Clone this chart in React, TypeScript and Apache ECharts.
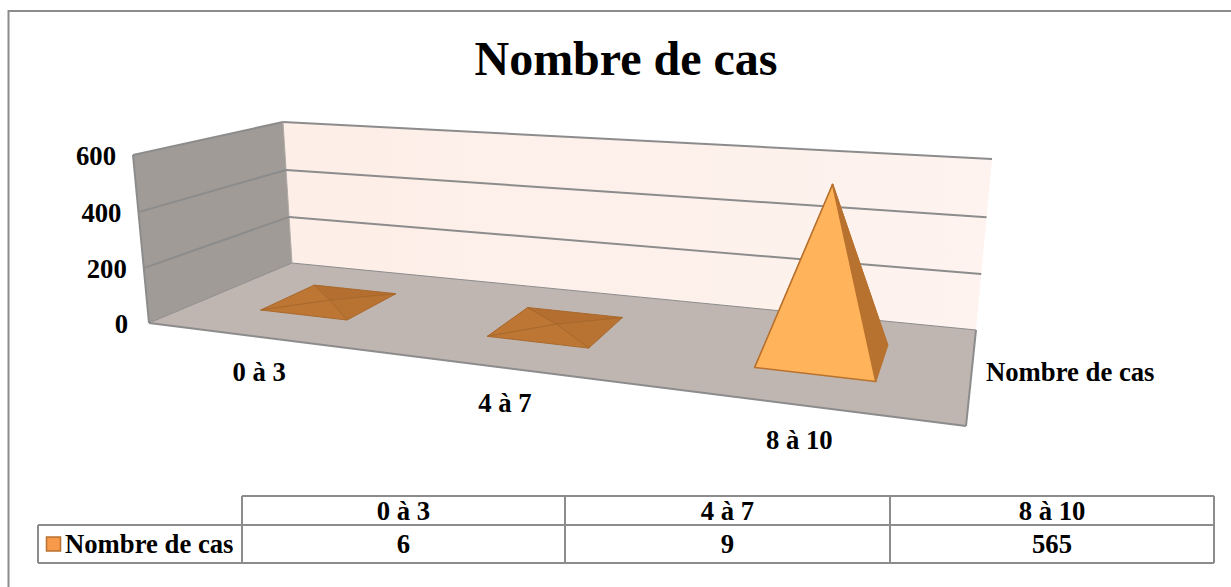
import React, { useEffect, useRef } from "react";
import * as echarts from "echarts";

const title = "Nombre de cas";
const seriesName = "Nombre de cas";
const categories = ["0 à 3", "4 à 7", "8 à 10"];
const values = [6, 9, 565];
const yTicks = [0, 200, 400, 600];

const SERIF = '"Liberation Serif", "Times New Roman", serif';
const LINE = "#8c8c8c";
const FLAT_LIMIT = 50;
const FONT = 26.7;

type P = [number, number];
function squareToQuad(a: P, b: P, c: P, d: P) {
  // a=(0,0) b=(1,0) c=(1,1) d=(0,1)
  const dx1 = b[0] - c[0], dx2 = d[0] - c[0], sx = a[0] - b[0] + c[0] - d[0];
  const dy1 = b[1] - c[1], dy2 = d[1] - c[1], sy = a[1] - b[1] + c[1] - d[1];
  const det = dx1 * dy2 - dx2 * dy1;
  const g = (sx * dy2 - dx2 * sy) / det;
  const h = (dx1 * sy - sx * dy1) / det;
  const A = b[0] - a[0] + g * b[0], B = d[0] - a[0] + h * d[0], C = a[0];
  const D = b[1] - a[1] + g * b[1], E = d[1] - a[1] + h * d[1], F = a[1];
  return (u: number, w: number): P => {
    const q = g * u + h * w + 1;
    return [(A * u + B * w + C) / q, (D * u + E * w + F) / q];
  };
}
const floorMap = squareToQuad([149, 323], [966, 426], [976, 330], [292, 263]);
const topMap = squareToQuad([133, 155], [986, 213], [992, 159], [283, 122]);
function project(u: number, w: number, v: number): P {
  const f = floorMap(u, w), t = topMap(u, w);
  const e = v / (1 + 0.03 * (1 - v)); // vertical foreshortening
  return [f[0] + (t[0] - f[0]) * e, f[1] + (t[1] - f[1]) * e];
}
const tableX = [242, 565, 890, 1214];
const tableY = [496, 525, 563];

function textEl(text: string, x: number, y: number, align: string, size: number) {
  return {
    type: "text",
    silent: true,
    style: { text, x, y, align, verticalAlign: "middle", font: `bold ${size}px ${SERIF}`, fill: "#000" },
  };
}
function poly(points: P[], fill: any, stroke?: string, lineWidth = 0) {
  return {
    type: "polygon",
    silent: true,
    shape: { points },
    style: { fill, stroke: stroke || "none", lineWidth, lineJoin: "round" },
  };
}
function line(a: P, b: P, width = 2, stroke = LINE) {
  return {
    type: "line",
    silent: true,
    shape: { x1: a[0], y1: a[1], x2: b[0], y2: b[1] },
    style: { stroke, lineWidth: width },
  };
}

function renderRoom() {
  const backGrad = new echarts.graphic.LinearGradient(0, 0, 1, 0, [
    { offset: 0, color: "#FDEEE7" },
    { offset: 1, color: "#FEF3EF" },
  ]);
  const lb = project(0, 0, 0), lt = project(0, 0, 1);
  const blb = project(0, 1, 0), blt = project(0, 1, 1);
  const brb = project(1, 1, 0), brt = project(1, 1, 1);
  const frb = project(1, 0, 0);
  return {
    type: "group",
    children: [
      poly([blb, brb, brt, blt], backGrad),
      poly([lb, blb, blt, lt], "#A09B97"),
      poly([lb, frb, brb, blb], "#BFB5B1"),
      line(lt, blt),
      line(blt, brt),
      line(lt, lb),
      line(lb, frb),
      line(frb, brb),
      line(blb, brb, 1),
      line(lb, blb, 1),
      line(blb, blt, 1, "#b0aaa6"),
      textEl(seriesName, frb[0] + 20, project(1, 0.5, 0)[1], "left", FONT),
    ],
  };
}

function renderTick(params: any, api: any) {
  const cs = params.coordSys;
  const v = (cs.y + cs.height - api.coord([0, api.value(0)])[1]) / cs.height;
  if (v === 0) {
    const p = project(0, 0, 0);
    return { type: "group", children: [textEl(String(api.value(0)), p[0] - 21, p[1] + 1, "right", FONT)] };
  }
  const a = project(0, 0, v), b = project(0, 1, v), c = project(1, 1, v);
  const children: any[] = [textEl(String(api.value(0)), a[0] - 17, a[1] + 1, "right", FONT)];
  if (v < 1) children.push(line(a, b), line(b, c));
  return { type: "group", children };
}

function renderPyramid(params: any, api: any) {
  const cs = params.coordSys;
  const pt = api.coord([api.value(0), api.value(1)]);
  const u = (pt[0] - cs.x) / cs.width + 0.003;
  const v = (cs.y + cs.height - pt[1]) / cs.height;
  const du = (api.size([1, 0])[0] / cs.width) * 0.2;
  const w0 = 0.3, w1 = 0.7;
  const fl = project(u - du, w0, 0), fr = project(u + du, w0, 0);
  const br = project(u + du, w1, 0), bl = project(u - du, w1, 0);
  const apex = project(u, (w0 + w1) / 2, v);
  const flat = api.value(1) < FLAT_LIMIT;
  const edge = flat ? "#A9692C" : "#B9722E";
  const lw = flat ? 1 : 1.5;
  const frontFill = flat ? "#BD7634" : "#FFB45C";
  const rightFill = flat ? "#B87231" : "#B8722F";
  const catBase = project(u, 0, 0);
  return {
    type: "group",
    children: [
      poly([bl, fl, apex], flat ? "#BD7634" : "#B8722F", edge, lw),
      poly([bl, br, apex], flat ? "#B36E30" : "#B8722F", edge, lw),
      poly([br, fr, apex], rightFill, edge, lw),
      poly([fl, fr, apex], frontFill, edge, lw),
      textEl(categories[api.value(0)], catBase[0], catBase[1] + 35.5, "center", FONT),
    ],
  };
}

export default function App() {
  const ref = useRef<HTMLDivElement>(null);
  useEffect(() => {
    document.body.style.margin = "0";
    const chart = echarts.init(ref.current!, undefined, { renderer: "svg" });
    const tableLine = (x1: number, y1: number, x2: number, y2: number) => ({
      type: "line",
      shape: { x1, y1, x2, y2 },
      style: { stroke: LINE, lineWidth: 2 },
      silent: true,
    });
    const midY = (a: number, b: number) => (a + b) / 2;
    const tableText = (text: string, x: number, y: number, align = "center") => ({
      type: "text",
      silent: true,
      style: { text, x, y, align, verticalAlign: "middle", font: `bold ${FONT}px ${SERIF}`, fill: "#000" },
    });
    const graphics: any[] = [
      // outer frame, open on the right and bottom
      { type: "polyline", silent: true, shape: { points: [[8.5, 587], [8.5, 11], [1231, 11]] }, style: { stroke: LINE, lineWidth: 2, fill: "none" } },
      tableLine(tableX[0], tableY[0], tableX[3], tableY[0]),
      tableLine(38, tableY[1], tableX[3], tableY[1]),
      tableLine(38, tableY[2], tableX[3], tableY[2]),
      tableLine(38, tableY[1], 38, tableY[2]),
      ...tableX.map((x) => tableLine(x, tableY[0], x, tableY[2])),
      { type: "rect", silent: true, shape: { x: 46.5, y: 537, width: 14, height: 14 }, style: { fill: "#F79A4C", stroke: "#B9722E", lineWidth: 1.5 } },
      tableText(seriesName, 65, midY(tableY[1], tableY[2]), "left"),
      ...categories.map((c, i) => tableText(c, (tableX[i] + tableX[i + 1]) / 2, midY(tableY[0], tableY[1]))),
      ...values.map((val, i) => tableText(String(val), (tableX[i] + tableX[i + 1]) / 2, midY(tableY[1], tableY[2]))),
    ];
    chart.setOption({
      animation: false,
      backgroundColor: "#fff",
      title: {
        text: title,
        left: 621,
        top: 53,
        textAlign: "center",
        textVerticalAlign: "middle",
        textStyle: { fontFamily: SERIF, fontWeight: "bold", fontSize: 48, color: "#000" },
      },
      grid: { left: 100, right: 100, top: 100, bottom: 100, containLabel: false },
      xAxis: { type: "category", data: categories, show: false },
      yAxis: { type: "value", min: 0, max: 600, interval: 200, show: false },
      graphic: graphics,
      series: [
        { type: "custom", name: "room", silent: true, clip: false, z: 1, data: [[0, 0]], renderItem: renderRoom },
        { type: "custom", name: "ticks", silent: true, clip: false, z: 2, data: yTicks.map((t) => [t]), encode: { x: -1, y: 0 }, renderItem: renderTick },
        { type: "custom", name: seriesName, silent: true, clip: false, z: 3, data: values.map((v, i) => [i, v]), encode: { x: 0, y: 1 }, renderItem: renderPyramid },
      ],
    });
    return () => chart.dispose();
  }, []);
  return <div ref={ref} style={{ position: "fixed", left: 0, top: 0, width: 1231, height: 587 }} />;
}
